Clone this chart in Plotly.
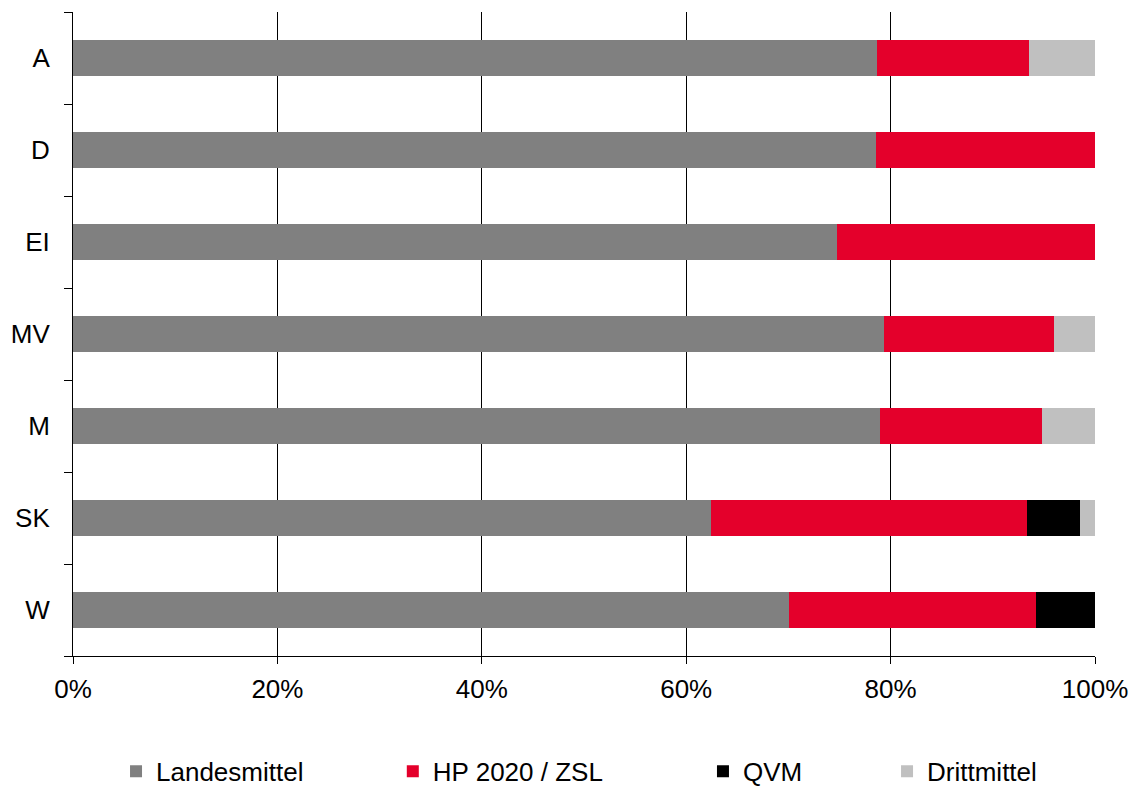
import plotly.graph_objects as go

# Shares of funding per department (percent), top to bottom
categories = ["A", "D", "EI", "MV", "M", "SK", "W"]
landesmittel = [78.7, 78.6, 74.8, 79.4, 79.0, 62.4, 70.1]
hp2020_zsl = [14.8, 21.4, 25.2, 16.6, 15.8, 30.9, 24.1]
qvm = [0.0, 0.0, 0.0, 0.0, 0.0, 5.2, 5.8]
drittmittel = [6.5, 0.0, 0.0, 4.0, 5.2, 1.5, 0.0]

series = [
    ("Landesmittel", landesmittel, "#808080", "legend"),
    ("HP 2020 / ZSL", hp2020_zsl, "#E4002B", "legend2"),
    ("QVM", qvm, "#000000", "legend3"),
    ("Drittmittel", drittmittel, "#C0C0C0", "legend4"),
]

FONT = "Liberation Sans, Arial, sans-serif"

fig = go.Figure()
for name, values, color, leg in series:
    fig.add_trace(
        go.Bar(
            y=categories,
            x=values,
            name=name,
            orientation="h",
            marker=dict(color=color, line=dict(width=0)),
            legend=leg,
            showlegend=True,
        )
    )

# one legend per entry so the entries can sit at the same spots as the original
legend_style = dict(
    orientation="h",
    xref="container",
    yref="container",
    yanchor="middle",
    y=0.02,
    xanchor="left",
    font=dict(family=FONT, size=26, color="black"),
    bgcolor="rgba(0,0,0,0)",
    itemwidth=30,
)

fig.update_layout(
    barmode="stack",
    bargap=0.61,
    width=1132,
    height=787,
    margin=dict(l=73, r=37, t=12, b=131),
    plot_bgcolor="white",
    paper_bgcolor="white",
    showlegend=True,
    font=dict(family=FONT, size=26, color="black"),
    legend=dict(legend_style, x=0.1025),
    legend2=dict(legend_style, x=0.347),
    legend3=dict(legend_style, x=0.621),
    legend4=dict(legend_style, x=0.7836),
    xaxis=dict(
        range=[0, 100],
        dtick=20,
        ticksuffix="%",
        showgrid=True,
        gridcolor="#000000",
        gridwidth=1,
        showline=True,
        linecolor="#000000",
        linewidth=1,
        ticks="outside",
        ticklen=7,
        tickcolor="#000000",
        ticklabelstandoff=3,
        zeroline=False,
        automargin=False,
        fixedrange=True,
    ),
    yaxis=dict(
        categoryorder="array",
        categoryarray=categories[::-1],
        showgrid=False,
        showline=True,
        linecolor="#000000",
        linewidth=1,
        ticks="outside",
        tickson="boundaries",
        ticklen=8,
        tickcolor="#000000",
        ticklabelstandoff=17,
        zeroline=False,
        automargin=False,
        fixedrange=True,
    ),
)

fig.write_html(
    "out.html",
    config={"displayModeBar": False},
    post_script="document.body.style.margin='0';",
)
